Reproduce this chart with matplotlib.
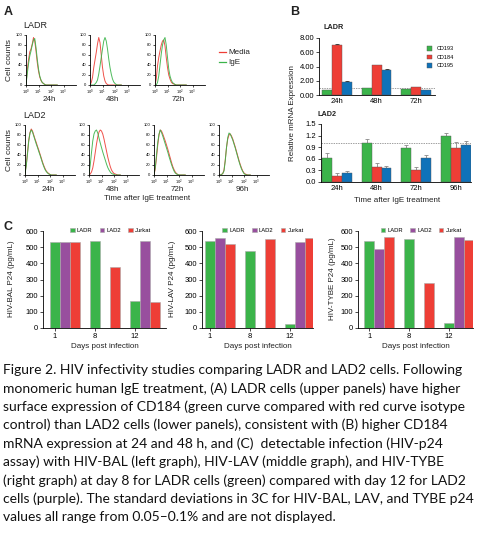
import matplotlib
matplotlib.use('Agg')
import matplotlib.pyplot as plt
import numpy as np
from matplotlib.ticker import FormatStrFormatter, FixedLocator, NullFormatter, LogLocator

# ---------------- DATA ----------------
# Panel A: flow cytometry histograms (x = log10 intensity, y = % of max)
hist_log_intensity = [0.0, 0.1, 0.2, 0.3, 0.4, 0.5, 0.6, 0.7, 0.8, 0.9, 1.0, 1.1, 1.2,
                      1.3, 1.4, 1.5, 1.6, 1.7, 1.8, 1.9, 2.0, 2.1, 2.2, 2.3, 2.4, 2.5]
ladr_24h_media = [2, 30, 50, 66, 72, 82, 95, 88, 68, 45, 28, 16, 9, 5, 3, 1, 0, 0, 0, 0, 0, 0, 0, 0, 0, 0]
ladr_24h_ige   = [1, 22, 42, 58, 68, 80, 90, 93, 75, 52, 32, 18, 10, 5, 3, 1, 0, 0, 0, 0, 0, 0, 0, 0, 0, 0]
ladr_48h_media = [0, 5, 15, 35, 50, 65, 82, 95, 85, 60, 35, 18, 8, 3, 1, 0, 0, 0, 0, 0, 0, 0, 0, 0, 0, 0]
ladr_48h_ige   = [0, 0, 0, 0, 2, 5, 10, 22, 38, 55, 72, 88, 95, 88, 72, 52, 35, 22, 12, 6, 3, 1, 0, 0, 0, 0]
ladr_72h_media = [0, 12, 38, 55, 68, 80, 88, 90, 78, 55, 35, 20, 12, 6, 3, 2, 1, 0, 0, 0, 0, 0, 0, 0, 0, 0]
ladr_72h_ige   = [0, 0, 5, 18, 40, 62, 80, 90, 95, 80, 55, 32, 18, 10, 5, 3, 1, 0, 0, 0, 0, 0, 0, 0, 0, 0]
lad2_24h_media = [3, 20, 45, 70, 85, 92, 88, 80, 72, 65, 57, 50, 42, 34, 26, 19, 13, 8, 5, 3, 1, 0, 0, 0, 0, 0]
lad2_24h_ige   = [2, 18, 42, 68, 84, 90, 86, 78, 70, 62, 55, 47, 40, 32, 24, 17, 11, 7, 4, 2, 1, 0, 0, 0, 0, 0]
lad2_48h_media = [0, 2, 6, 14, 28, 45, 62, 76, 86, 90, 88, 82, 72, 60, 48, 36, 26, 17, 10, 6, 3, 2, 1, 0, 0, 0]
lad2_48h_ige   = [2, 20, 45, 68, 82, 88, 90, 84, 74, 64, 55, 46, 38, 30, 22, 15, 10, 6, 3, 2, 1, 0, 0, 0, 0, 0]
lad2_72h_media = [1, 12, 35, 60, 80, 90, 88, 82, 75, 68, 60, 52, 43, 34, 25, 17, 11, 6, 3, 1, 0, 0, 0, 0, 0, 0]
lad2_72h_ige   = [1, 15, 40, 65, 82, 90, 85, 78, 70, 62, 54, 46, 37, 29, 21, 14, 8, 4, 2, 1, 0, 0, 0, 0, 0, 0]
lad2_96h_media = [0, 0, 1, 3, 10, 30, 55, 72, 80, 82, 78, 72, 64, 56, 47, 38, 29, 21, 14, 8, 4, 2, 1, 0, 0, 0]
lad2_96h_ige   = [0, 0, 1, 3, 8, 28, 55, 75, 84, 82, 76, 70, 62, 54, 45, 36, 27, 19, 12, 7, 3, 1, 0, 0, 0, 0]
hist_times_ladr = ['24h', '48h', '72h']
hist_times_lad2 = ['24h', '48h', '72h', '96h']

# Panel B: relative mRNA expression
b_genes = ['CD193', 'CD184', 'CD195']
b_ladr_times = ['24h', '48h', '72h']
b_ladr_cd193 = [0.65, 1.00, 0.85]
b_ladr_cd184 = [7.05, 4.20, 1.10]
b_ladr_cd195 = [1.85, 3.55, 0.65]
b_ladr_err_cd193 = [0.05, 0.05, 0.05]
b_ladr_err_cd184 = [0.05, 0.05, 0.08]
b_ladr_err_cd195 = [0.08, 0.05, 0.05]
b_lad2_times = ['24h', '48h', '72h', '96h']
b_lad2_cd193 = [0.62, 1.02, 0.89, 1.18]
b_lad2_cd184 = [0.15, 0.38, 0.30, 0.87]
b_lad2_cd195 = [0.24, 0.35, 0.62, 0.96]
b_lad2_err_cd193 = [0.12, 0.10, 0.06, 0.08]
b_lad2_err_cd184 = [0.09, 0.10, 0.08, 0.17]
b_lad2_err_cd195 = [0.04, 0.06, 0.08, 0.10]

# Panel C: HIV p24 (pg/mL)
c_days = ['1', '8', '12']
c_cells = ['LADR', 'LAD2', 'Jurkat']
bal_ladr = [532, 537, 165]
bal_lad2 = [532, 0, 540]
bal_jurkat = [532, 375, 158]
lav_ladr = [537, 479, 25]
lav_lad2 = [555, 0, 531]
lav_jurkat = [517, 551, 559]
tybe_ladr = [537, 551, 28]
tybe_lad2 = [490, 0, 562]
tybe_jurkat = [562, 278, 543]

caption_lines = [
    "Figure 2. HIV infectivity studies comparing LADR and LAD2 cells. Following",
    "monomeric human IgE treatment, (A) LADR cells (upper panels) have higher",
    "surface expression of CD184 (green curve compared with red curve isotype",
    "control) than LAD2 cells (lower panels), consistent with (B) higher CD184",
    "mRNA expression at 24 and 48 h, and (C)  detectable infection (HIV-p24",
    "assay) with HIV-BAL (left graph), HIV-LAV (middle graph), and HIV-TYBE",
    "(right graph) at day 8 for LADR cells (green) compared with day 12 for LAD2",
    "cells (purple). The standard deviations in 3C for HIV-BAL, LAV, and TYBE p24",
    "values all range from 0.05\u20130.1% and are not displayed.",
]

# ---------------- STYLE ----------------
plt.rcParams['font.family'] = ['Liberation Sans', 'DejaVu Sans']
plt.rcParams['axes.linewidth'] = 0.6
plt.rcParams['xtick.major.width'] = 0.5
plt.rcParams['ytick.major.width'] = 0.5
plt.rcParams['xtick.minor.width'] = 0.4
plt.rcParams['xtick.major.size'] = 2
plt.rcParams['ytick.major.size'] = 2
plt.rcParams['xtick.minor.size'] = 1.2
plt.rcParams['xtick.major.pad'] = 1.5
plt.rcParams['ytick.major.pad'] = 1.5

RED = '#ee3e36'
GREEN = '#3bb44a'
BLUE = '#0f72b9'
PURPLE = '#984f9e'
TXT = '#222222'

W, H = 480, 538
fig = plt.figure(figsize=(W / 100, H / 100), dpi=100)


def px_axes(x0, y0, x1, y1):
    return fig.add_axes([x0 / W, 1 - y1 / H, (x1 - x0) / W, (y1 - y0) / H])


def ftext(x, y, s, **kw):
    kw.setdefault('color', TXT)
    return fig.text(x / W, 1 - y / H, s, **kw)


def clean(ax):
    ax.spines['top'].set_visible(False)
    ax.spines['right'].set_visible(False)


# ---------------- PANEL A ----------------
ftext(4, 12, 'A', fontsize=9, fontweight='bold', ha='left', va='center')
ftext(23, 25, 'LADR', fontsize=6.5, ha='left', va='center')
ftext(23, 115, 'LAD2', fontsize=6.5, ha='left', va='center')
ftext(10, 60, 'Cell counts', fontsize=6, rotation=90, ha='center', va='center')
ftext(10, 150, 'Cell counts', fontsize=6, rotation=90, ha='center', va='center')
ftext(147, 199, 'Time after IgE treatment', fontsize=5.8, ha='center', va='center')

xvals = 10 ** np.array(hist_log_intensity)
row1 = [(ladr_24h_media, ladr_24h_ige), (ladr_48h_media, ladr_48h_ige), (ladr_72h_media, ladr_72h_ige)]
row2 = [(lad2_24h_media, lad2_24h_ige), (lad2_48h_media, lad2_48h_ige),
        (lad2_72h_media, lad2_72h_ige), (lad2_96h_media, lad2_96h_ige)]


def hist_ax(x0, y0, media, ige, label, ylab_y):
    ax = px_axes(x0, y0, x0 + 50, y0 + 50)
    clean(ax)
    ax.plot(xvals, media, color=RED, lw=0.7, alpha=0.9)
    ax.plot(xvals, ige, color=GREEN, lw=0.7, alpha=0.9)
    ax.set_xscale('log')
    ax.set_xlim(1, 1e4)
    ax.set_ylim(0, 100)
    ax.set_yticks([0, 20, 40, 60, 80, 100])
    ax.tick_params(axis='y', labelsize=3, length=1.5, pad=1)
    ax.xaxis.set_major_locator(FixedLocator([1, 10, 100, 1000]))
    ax.set_xticklabels(['$10^0$', '$10^1$', '$10^2$', '$10^3$'])
    ax.xaxis.set_minor_locator(LogLocator(base=10, subs=np.arange(2, 10)))
    ax.xaxis.set_minor_formatter(NullFormatter())
    ax.tick_params(axis='x', which='major', labelsize=2.6, length=1.5, pad=0.8)
    ax.tick_params(axis='x', which='minor', length=0.8)
    ftext(x0 + 23, ylab_y, label, fontsize=5.8, ha='center', va='center')
    return ax


for i, (m, g) in enumerate(row1):
    hist_ax([26, 90, 155][i], 35, m, g, hist_times_ladr[i], 99.5)
for i, (m, g) in enumerate(row2):
    hist_ax([25, 89, 154, 219][i], 125, m, g, hist_times_lad2[i], 189.5)

# legend Media / IgE
for yy, col, lab in [(52, RED, 'Media'), (62, GREEN, 'IgE')]:
    fig.add_artist(plt.Line2D([219 / W, 226 / W], [1 - yy / H, 1 - yy / H], color=col, lw=0.9))
    ftext(228, yy, lab, fontsize=5.8, ha='left', va='center')

# ---------------- PANEL B ----------------
ftext(290, 12, 'B', fontsize=9, fontweight='bold', ha='left', va='center')
ftext(323, 28, 'LADR', fontsize=5.2, ha='left', va='center', fontweight='semibold')
ftext(317, 115, 'LAD2', fontsize=5.2, ha='left', va='center', fontweight='semibold')
ftext(293, 113, 'Relative mRNA Expression', fontsize=5.8, rotation=90, ha='center', va='center')
ftext(397, 200, 'Time after IgE treatment', fontsize=5.8, ha='center', va='center')

bw = 0.25
bcols = [GREEN, RED, BLUE]


def bar_group(ax, vals_list, errs_list, ecol, n):
    x = np.arange(n)
    for k, (vals, errs) in enumerate(zip(vals_list, errs_list)):
        pos = x + (k - 1) * bw
        ax.errorbar(pos, vals, yerr=[np.zeros(n), errs], fmt='none', ecolor=ecol,
                    elinewidth=0.6, capsize=1.6, capthick=0.6, zorder=1)
        ax.bar(pos, vals, width=bw, color=bcols[k], edgecolor='#555555', linewidth=0.3,
               zorder=2, label=b_genes[k])
    ax.axhline(1.0, color='#777777', lw=0.5, ls=(0, (2, 1.5)), zorder=0)
    ax.set_xticks(x)
    ax.tick_params(axis='x', length=0, labelsize=5.5, pad=2.5)
    ax.tick_params(axis='y', labelsize=5.5)
    clean(ax)


axB1 = px_axes(319, 38, 435, 95)
bar_group(axB1, [b_ladr_cd193, b_ladr_cd184, b_ladr_cd195],
          [b_ladr_err_cd193, b_ladr_err_cd184, b_ladr_err_cd195], '#222222', 3)
axB1.set_xlim(-0.45, 2.47)
axB1.set_ylim(0, 8)
axB1.set_yticks([0, 2, 4, 6, 8])
axB1.yaxis.set_major_formatter(FormatStrFormatter('%.2f'))
axB1.set_xticklabels(b_ladr_times)
axB1.legend(loc='upper left', bbox_to_anchor=(427 / W, 1 - 46 / H), bbox_transform=fig.transFigure,
            frameon=False, fontsize=4, handlelength=0.9, handleheight=0.9, handletextpad=0.8,
            labelspacing=0.6, borderpad=0, borderaxespad=0)

axB2 = px_axes(321, 124, 471, 182)
bar_group(axB2, [b_lad2_cd193, b_lad2_cd184, b_lad2_cd195],
          [b_lad2_err_cd193, b_lad2_err_cd184, b_lad2_err_cd195], '#888888', 4)
axB2.set_xlim(-0.40, 3.38)
axB2.set_ylim(0, 1.5)
axB2.set_yticks([0, 0.3, 0.6, 0.9, 1.2, 1.5])
axB2.yaxis.set_major_formatter(FormatStrFormatter('%.1f'))
axB2.set_xticklabels(b_lad2_times)

# ---------------- PANEL C ----------------
ftext(4, 227, 'C', fontsize=9, fontweight='bold', ha='left', va='center')
ccols = [GREEN, PURPLE, RED]
c_panels = [
    ((43, 166), (bal_ladr, bal_lad2, bal_jurkat), 'HIV-BAL P24 (pg/mL)', 12, -0.3),
    ((202, 313), (lav_ladr, lav_lad2, lav_jurkat), 'HIV-LAV P24 (pg/mL)', 173, -0.2),
    ((358, 473), (tybe_ladr, tybe_lad2, tybe_jurkat), 'HIV-TYBE P24 (pg/mL)', 333, -0.28),
]
for (x0, x1), series, ylab, ylx, xl in c_panels:
    ax = px_axes(x0, 231, x1, 328)
    clean(ax)
    x = np.arange(len(c_days))
    for k, vals in enumerate(series):
        ax.bar(x + k * bw, vals, width=bw, color=ccols[k], edgecolor='#aaaaaa',
               linewidth=0.4, label=c_cells[k])
    ax.set_xlim(xl, xl + (x1 - x0) / 40.0)
    ax.set_ylim(0, 600)
    ax.set_yticks([0, 100, 200, 300, 400, 500, 600])
    ax.set_xticks(x)
    ax.set_xticklabels(c_days)
    ax.tick_params(axis='both', labelsize=5.5)
    ftext(ylx, 279, ylab, fontsize=5.8, rotation=90, ha='center', va='center')
    ftext((x0 + x1) / 2, 347, 'Days post infection', fontsize=5.8, ha='center', va='center')
    ax.legend(loc='lower center', bbox_to_anchor=(0.55, 0.98), ncol=3, frameon=False,
              fontsize=4.2, handlelength=0.8, handleheight=0.8, handletextpad=0.4,
              columnspacing=1.2, borderpad=0, borderaxespad=0)

# ---------------- CAPTION ----------------
cap_texts = []
for i, line in enumerate(caption_lines):
    t = fig.text(3 / W, 1 - (370 + i * 18.4) / H, line, fontsize=9.5,
                 family=['Lato', 'DejaVu Sans'], ha='left', va='center', color='#111111')
    cap_texts.append(t)
fig.canvas.draw()
r = fig.canvas.get_renderer()
wmax = max(t.get_window_extent(r).width for t in cap_texts)
scale = 472.0 / wmax
for t in cap_texts:
    t.set_fontsize(9.5 * scale)

fig.savefig('out.png', dpi=100)
